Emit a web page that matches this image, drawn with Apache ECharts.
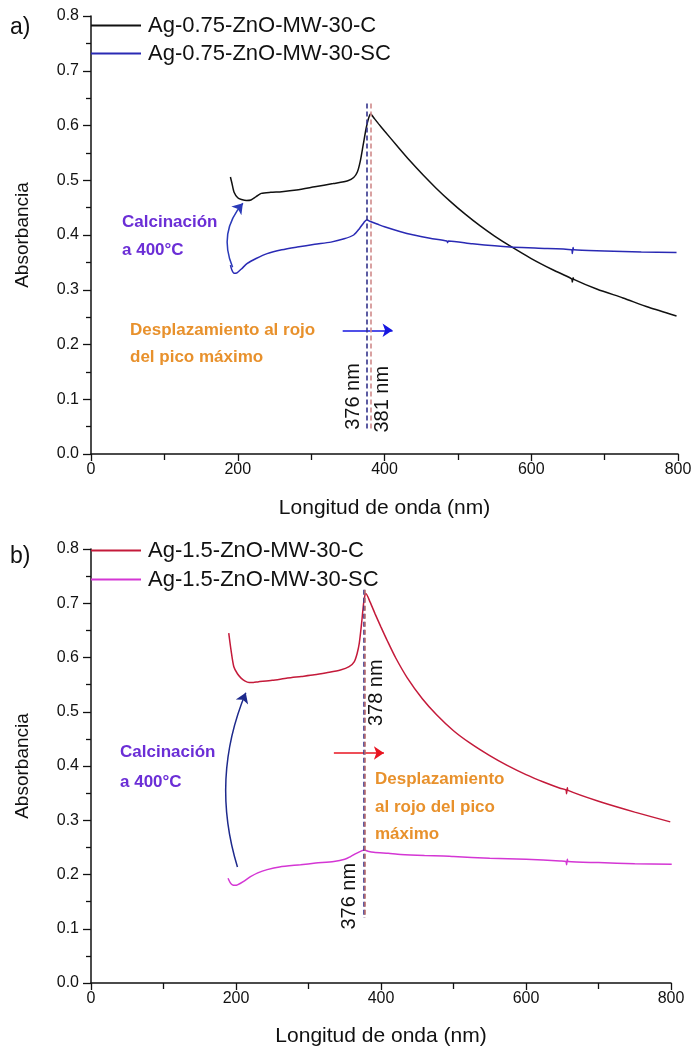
<!DOCTYPE html>
<html>
<head>
<meta charset="utf-8">
<title>Absorbancia UV-Vis Ag-ZnO</title>
<script src="https://cdn.jsdelivr.net/npm/echarts@6/dist/echarts.min.js"></script>
<style>
  html, body { margin: 0; padding: 0; background: #ffffff; }
  #chart { width: 697px; height: 1057px; }
</style>
</head>
<body>
<div id="chart"></div>
<script>
// Spectra: [wavelength (nm), absorbance]
const seriesNamesA = ['Ag-0.75-ZnO-MW-30-C', 'Ag-0.75-ZnO-MW-30-SC'];
const seriesNamesB = ['Ag-1.5-ZnO-MW-30-C', 'Ag-1.5-ZnO-MW-30-SC'];

const ag075C = [
  [190,0.506],[192,0.495],[195,0.478],[200,0.468],[205,0.465],[212,0.463],[218,0.464],
  [225,0.470],[232,0.476],[245,0.478],[260,0.479],[280,0.482],[305,0.488],[330,0.494],
  [350,0.499],[358,0.505],[363,0.515],[367,0.535],[371,0.565],[375,0.595],[378,0.612],
  [381,0.621],[386,0.613],[392,0.603],[400,0.590],[417,0.563],[435,0.535],[453,0.509],
  [470,0.486],[490,0.461],[510,0.438],[530,0.417],[550,0.398],[571,0.380],[600,0.357],
  [630,0.336],[655,0.320],[656,0.314],[657,0.322],[658,0.319],[690,0.301],[725,0.285],
  [760,0.268],[798,0.252]
];
const ag075SC = [
  [190,0.345],[192,0.336],[195,0.330],[199,0.331],[205,0.338],[213,0.348],[225,0.357],
  [240,0.366],[260,0.373],[281,0.378],[305,0.383],[327,0.387],[345,0.393],[358,0.400],
  [366,0.412],[372,0.423],[376,0.428],[380,0.425],[390,0.420],[400,0.415],[422,0.406],
  [440,0.400],[462,0.394],[485,0.389],[486,0.386],[487,0.389],[520,0.384],[571,0.378],
  [610,0.376],[655,0.373],[656,0.366],[657,0.377],[658,0.373],[700,0.371],[750,0.369],
  [798,0.368]
];
const ag15C = [
  [190,0.645],[193,0.615],[197,0.583],[202,0.570],[207,0.562],[212,0.557],[218,0.554],
  [224,0.554],[230,0.555],[250,0.558],[271,0.562],[290,0.565],[308,0.568],[325,0.572],
  [344,0.577],[356,0.583],[363,0.592],[367,0.607],[370,0.626],[373,0.660],[376,0.700],
  [378,0.716],[379,0.718],[385,0.702],[392,0.680],[400,0.656],[409,0.630],[420,0.600],
  [436,0.563],[457,0.524],[477,0.494],[500,0.465],[523,0.442],[550,0.419],[574,0.401],
  [600,0.384],[625,0.370],[647,0.359],[655,0.356],[656,0.349],[657,0.360],[658,0.355],
  [700,0.335],[750,0.315],[799,0.297]
];
const ag15SC = [
  [189,0.193],[192,0.185],[195,0.181],[199,0.180],[202,0.181],[210,0.187],[220,0.196],
  [230,0.203],[243,0.209],[260,0.214],[289,0.218],[310,0.221],[335,0.224],[350,0.228],
  [358,0.233],[366,0.239],[374,0.244],[377,0.245],[382,0.243],[390,0.241],[410,0.239],
  [427,0.237],[460,0.235],[486,0.234],[500,0.233],[550,0.230],[600,0.228],[647,0.225],
  [655,0.224],[656,0.218],[657,0.228],[658,0.224],[700,0.222],[750,0.220],[801,0.219]
];

// Peak positions (nm) and annotation marks
const peaksA = [376, 381];
const peaksB = [376, 378];
const peakSpanA = [0.64, 0.045];
const peakSpanB = [0.725, 0.12];
const shiftArrowA = [[343, 0.226], [411, 0.226]];
const shiftArrowB = [[335, 0.424], [404, 0.424]];
const calcArrowA = [[193, 0.341], [207, 0.458]];
const calcArrowB = [[202, 0.214], [213.5, 0.535]];

const xTicks = { min: 0, max: 800, interval: 200 };
const yTicks = { min: 0, max: 0.8, interval: 0.1 };

const FONT = '"Liberation Sans", Arial, sans-serif';
const chart = echarts.init(document.getElementById('chart'), null, { renderer: 'canvas' });

function xAxisFor(gridIndex, gap) {
  return {
    gridIndex, type: 'value', min: xTicks.min, max: xTicks.max, interval: xTicks.interval,
    name: 'Longitud de onda (nm)', nameLocation: 'middle', nameGap: gap,
    nameTextStyle: { fontFamily: FONT, fontSize: 21, color: '#111' },
    axisLine: { show: true, onZero: false, lineStyle: { color: '#111', width: 1.5 } },
    axisTick: { show: true, length: 7, lineStyle: { color: '#111', width: 1.3 } },
    minorTick: { show: true, splitNumber: 2, length: 6, lineStyle: { color: '#111', width: 1.3 } },
    axisLabel: { fontFamily: FONT, fontSize: 16, color: '#111', margin: 8 },
    splitLine: { show: false }
  };
}
function yAxisFor(gridIndex) {
  return {
    gridIndex, type: 'value', min: yTicks.min, max: yTicks.max, interval: yTicks.interval,
    name: 'Absorbancia', nameLocation: 'middle', nameGap: 59, nameRotate: 90,
    nameTextStyle: { fontFamily: FONT, fontSize: 19, color: '#111' },
    axisLine: { show: true, onZero: false, lineStyle: { color: '#111', width: 1.5 } },
    axisTick: { show: true, length: 8, lineStyle: { color: '#111', width: 1.3 } },
    minorTick: { show: true, splitNumber: 2, length: 5, lineStyle: { color: '#111', width: 1.3 } },
    axisLabel: { fontFamily: FONT, fontSize: 16, color: '#111', margin: 12,
                 formatter: v => v.toFixed(1) },
    splitLine: { show: false }
  };
}

function spectrum(name, data, color, idx, extra) {
  return Object.assign({
    name, type: 'line', data, xAxisIndex: idx, yAxisIndex: idx,
    showSymbol: false, symbol: 'none', smooth: 0.25, silent: true,
    lineStyle: { color, width: 1.5 }, itemStyle: { color }, z: 3
  }, extra || {});
}

// Dashed verticals marking each peak maximum
function peakLines(peaks, span, colors) {
  return {
    silent: true, symbol: ['none', 'none'], animation: false,
    label: { show: false }, emphasis: { disabled: true },
    data: peaks.map((p, i) => [
      { coord: [p, span[0]], lineStyle: { color: colors[i], type: [5, 3], width: 1.6 } },
      { coord: [p, span[1]] }
    ])
  };
}

// Annotation arrow drawn as a lines series on the panel's axes
function arrowSeries(idx, points, color, curveness) {
  return {
    type: 'lines', coordinateSystem: 'cartesian2d', xAxisIndex: idx, yAxisIndex: idx,
    silent: true, z: 4, animation: false,
    symbol: ['none', 'arrow'], symbolSize: 10,
    lineStyle: { color, width: 1.5, type: 'solid', curveness: curveness || 0, opacity: 1 },
    data: [{ coords: [points[0], points[1]] }]
  };
}

const legendBase = {
  orient: 'vertical', left: 91, padding: 0, icon: 'rect', itemWidth: 50, itemHeight: 2,
  itemGap: 6, selectedMode: false,
  textStyle: { fontFamily: FONT, fontSize: 22, color: '#111', lineHeight: 21, padding: [0, 0, 0, 2] }
};

const option = {
  animation: false,
  backgroundColor: '#ffffff',
  grid: [
    { left: 91, right: 19, top: 16, bottom: 603 },
    { left: 91, right: 26, top: 549, bottom: 74 }
  ],
  legend: [
    Object.assign({}, legendBase, { top: 14.5, data: seriesNamesA }),
    Object.assign({}, legendBase, { top: 539.5, itemGap: 7, data: seriesNamesB })
  ],
  xAxis: [xAxisFor(0, 44), xAxisFor(1, 43)],
  yAxis: [yAxisFor(0), yAxisFor(1)],
  series: [
    spectrum(seriesNamesA[0], ag075C, '#111111', 0, {
      markLine: peakLines(peaksA, peakSpanA, ['#34348c', '#d08a8a'])
    }),
    spectrum(seriesNamesA[1], ag075SC, '#2a2ab4', 0),
    spectrum(seriesNamesB[0], ag15C, '#c41a3a', 1, {
      markLine: peakLines(peaksB, peakSpanB, ['#34348c', '#b86a6a'])
    }),
    spectrum(seriesNamesB[1], ag15SC, '#d436d4', 1),
    arrowSeries(0, shiftArrowA, '#1616e0', 0),
    arrowSeries(0, calcArrowA, '#2a3ab8', 0.31),
    arrowSeries(1, shiftArrowB, '#e81420', 0),
    arrowSeries(1, calcArrowB, '#1e2a8c', 0.18)
  ]
};
chart.setOption(option);

// Text annotations
const ORANGE = '#e8912c';
const PURPLE = '#6b2ed6';
function txt(text, x, y, opts) {
  return {
    type: 'text', x, y, silent: true, z: 10, rotation: (opts && opts.rotation) || 0,
    style: Object.assign({
      text, fill: '#111', fontFamily: FONT, fontSize: 17, fontWeight: 'normal',
      align: 'left', verticalAlign: 'middle'
    }, opts && opts.style)
  };
}
function bold(text, x, y, color) {
  return txt(text, x, y, { style: { fill: color, fontWeight: 'bold', fontSize: 17 } });
}
function peakLabel(text, gridIdx, nm, val, dx) {
  const p = chart.convertToPixel({ gridIndex: gridIdx }, [nm, val]);
  return txt(text, p[0] + dx, p[1], {
    rotation: Math.PI / 2,
    style: { fontSize: 20, align: 'center', verticalAlign: 'middle', fill: '#111' }
  });
}

chart.setOption({
  graphic: [
    txt('a)', 10, 28, { style: { fontSize: 23 } }),
    txt('b)', 10, 557, { style: { fontSize: 23 } }),
    bold('Calcinación', 122, 222, PURPLE),
    bold('a 400°C', 122, 250, PURPLE),
    bold('Desplazamiento al rojo', 130, 330, ORANGE),
    bold('del pico máximo', 130, 357, ORANGE),
    bold('Calcinación', 120, 752, PURPLE),
    bold('a 400°C', 120, 782, PURPLE),
    bold('Desplazamiento', 375, 779, ORANGE),
    bold('al rojo del pico', 375, 807, ORANGE),
    bold('máximo', 375, 834, ORANGE),
    peakLabel(peaksA[0] + ' nm', 0, peaksA[0], 0.105, -13),
    peakLabel(peaksA[1] + ' nm', 0, peaksA[1], 0.100, 12),
    peakLabel(peaksB[1] + ' nm', 1, peaksB[1], 0.535, 11),
    peakLabel(peaksB[0] + ' nm', 1, peaksB[0], 0.16, -14)
  ]
});
</script>
</body>
</html>
